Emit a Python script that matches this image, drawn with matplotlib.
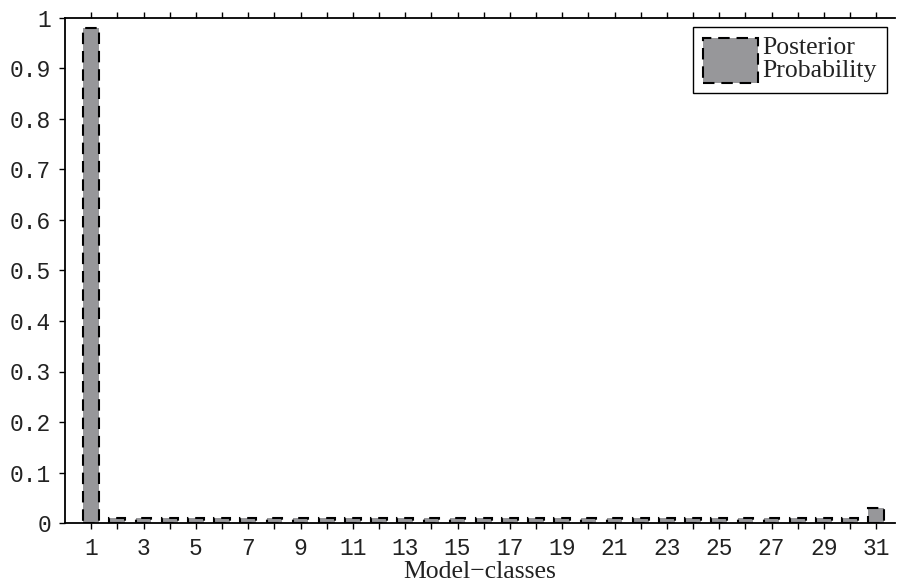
import matplotlib
matplotlib.use("Agg")
import matplotlib.pyplot as plt
import numpy as np

# Data
model_classes = list(range(1, 32))
posterior = [0.980] + [0.009] * 29 + [0.029]
ytick_vals = [0, 0.1, 0.2, 0.3, 0.4, 0.5, 0.6, 0.7, 0.8, 0.9, 1]
ytick_labels = ["0", "0.1", "0.2", "0.3", "0.4", "0.5", "0.6", "0.7", "0.8", "0.9", "1"]
xtick_labels = [str(c) if c % 2 == 1 else "" for c in model_classes]
xlabel = "Model\u2212classes"
legend_label = "Posterior\nProbability"

fig = plt.figure(figsize=(8.98, 5.86), dpi=100)
ax = fig.add_axes([65/898, (586-523)/586, (895-65)/898, (523-18)/586])

ax.bar(model_classes, posterior, width=0.6, color="#97979a", edgecolor="black",
       linestyle=(0, (5.5, 3.3)), linewidth=1.5, label=legend_label, zorder=2)

ax.set_xlim(0, 830/26.17)
ax.set_ylim(0, 1)
ax.set_yticks(ytick_vals)
ax.set_yticklabels(ytick_labels, family="Liberation Mono", fontsize=16.5, color="#222222")
ax.set_xticks(model_classes)
ax.set_xticklabels(xtick_labels, family="Liberation Mono", fontsize=16.5, color="#222222")
ax.tick_params(axis="both", direction="out", length=4, width=1, color="black")
ax.tick_params(axis="x", top=True, bottom=True, pad=6)
ax.tick_params(axis="y", left=True, right=False, pad=6)
ax.spines["right"].set_visible(False)
for s in ["left", "bottom", "top"]:
    ax.spines[s].set_linewidth(1.3)
    ax.spines[s].set_zorder(3)

ax.set_xlabel(xlabel, family="Liberation Serif", fontsize=18.5, labelpad=1, color="#222222")

leg = ax.legend(loc="upper right", bbox_to_anchor=((887-65)/830, (523-27)/505),
                borderaxespad=0, prop={"family": "Liberation Serif", "size": 18.5},
                handlelength=2.14, handleheight=2.3, handletextpad=0.16,
                borderpad=0.4, fancybox=False, framealpha=1, edgecolor="black")
leg.get_frame().set_linewidth(1.0)
for t in leg.get_texts():
    t.set_linespacing(1.05)
    t.set_color("#222222")

fig.savefig("out.png", dpi=100)
